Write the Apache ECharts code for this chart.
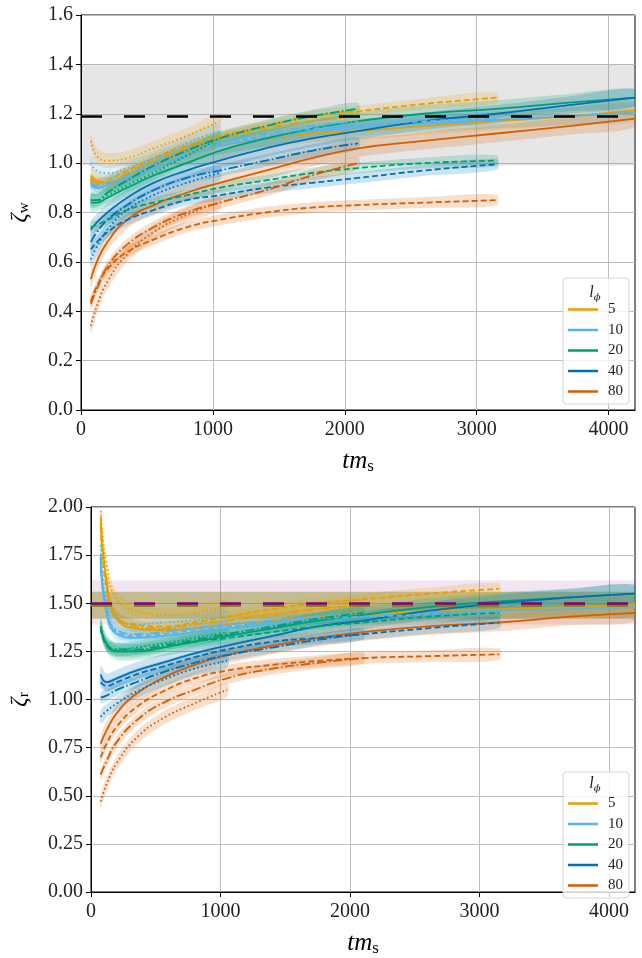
<!DOCTYPE html>
<html>
<head>
<meta charset="utf-8">
<script src="https://cdn.jsdelivr.net/npm/echarts@6/dist/echarts.min.js"></script>
<style>
  html, body { margin: 0; padding: 0; background: #fff; }
  #chart { width: 642px; height: 958px; }
</style>
</head>
<body>
<div id="chart"></div>
<script>
// sample times (tm_s); dotted runs stop at 1050, dash-dot at 2100, dashed at 3150, solid at 4200
const times = [75, 120, 200, 350, 550, 800, 1050, 1400, 1750, 2100, 2600, 3150, 3700, 4200];
const lPhi = ['5', '10', '20', '40', '80'];
const colors = ['#E69F00', '#56B4E9', '#009E73', '#0072B2', '#D55E00'];
const xTicks = [0, 1000, 2000, 3000, 4000];

// zeta_w (top panel), one row per l_phi
const zwSolid = [
  [0.95, 0.93, 0.92, 0.95, 0.99, 1.04, 1.07, 1.10, 1.12, 1.13, 1.15, 1.17, 1.19, 1.215],
  [0.91, 0.90, 0.91, 0.94, 0.98, 1.03, 1.07, 1.10, 1.13, 1.145, 1.16, 1.175, 1.19, 1.205],
  [0.84, 0.84, 0.86, 0.90, 0.95, 1.00, 1.05, 1.10, 1.14, 1.17, 1.20, 1.22, 1.245, 1.265],
  [0.73, 0.76, 0.80, 0.86, 0.92, 0.97, 1.01, 1.06, 1.10, 1.13, 1.17, 1.20, 1.235, 1.265],
  [0.53, 0.60, 0.68, 0.77, 0.83, 0.88, 0.92, 0.97, 1.02, 1.06, 1.09, 1.12, 1.15, 1.18]
];
const zwDashed = [
  [0.94, 0.92, 0.93, 0.97, 1.02, 1.07, 1.11, 1.15, 1.19, 1.21, 1.24, 1.265],
  [0.92, 0.90, 0.91, 0.94, 0.99, 1.04, 1.08, 1.11, 1.14, 1.15, 1.17, 1.18],
  [0.74, 0.75, 0.77, 0.81, 0.84, 0.87, 0.90, 0.93, 0.96, 0.98, 1.00, 1.01],
  [0.65, 0.68, 0.72, 0.77, 0.81, 0.85, 0.87, 0.90, 0.92, 0.94, 0.97, 0.995],
  [0.44, 0.50, 0.57, 0.64, 0.69, 0.74, 0.77, 0.80, 0.82, 0.83, 0.84, 0.85]
];
const zwDashDot = [
  [0.93, 0.92, 0.92, 0.96, 1.01, 1.06, 1.10, 1.14, 1.17, 1.19],
  [0.92, 0.91, 0.92, 0.95, 1.00, 1.05, 1.09, 1.12, 1.15, 1.17],
  [0.85, 0.85, 0.88, 0.93, 0.99, 1.05, 1.10, 1.15, 1.19, 1.22],
  [0.68, 0.72, 0.77, 0.83, 0.89, 0.94, 0.97, 1.01, 1.05, 1.08],
  [0.43, 0.49, 0.58, 0.67, 0.74, 0.80, 0.84, 0.89, 0.95, 1.00]
];
const zwDotted = [
  [1.09, 1.03, 1.01, 1.02, 1.06, 1.11, 1.17],
  [1.00, 0.97, 0.96, 0.98, 1.02, 1.08, 1.13],
  [0.85, 0.85, 0.87, 0.91, 0.96, 1.03, 1.10],
  [0.61, 0.66, 0.73, 0.81, 0.87, 0.92, 0.96],
  [0.34, 0.42, 0.52, 0.63, 0.72, 0.79, 0.84]
];

// zeta_r (bottom panel)
const zrSolid = [
  [1.95, 1.62, 1.42, 1.37, 1.36, 1.37, 1.39, 1.41, 1.43, 1.44, 1.46, 1.47, 1.48, 1.49],
  [1.72, 1.45, 1.34, 1.32, 1.33, 1.35, 1.37, 1.39, 1.41, 1.43, 1.45, 1.46, 1.47, 1.48],
  [1.38, 1.29, 1.25, 1.25, 1.27, 1.30, 1.33, 1.37, 1.41, 1.44, 1.48, 1.51, 1.53, 1.55],
  [1.13, 1.09, 1.11, 1.15, 1.19, 1.24, 1.28, 1.33, 1.38, 1.41, 1.46, 1.50, 1.53, 1.55],
  [0.77, 0.84, 0.93, 1.03, 1.11, 1.18, 1.23, 1.28, 1.32, 1.35, 1.38, 1.40, 1.43, 1.45]
];
const zrDashed = [
  [1.90, 1.58, 1.43, 1.39, 1.38, 1.40, 1.43, 1.47, 1.50, 1.52, 1.55, 1.575],
  [1.74, 1.46, 1.35, 1.33, 1.34, 1.36, 1.38, 1.40, 1.42, 1.43, 1.44, 1.45],
  [1.37, 1.28, 1.25, 1.25, 1.27, 1.30, 1.32, 1.35, 1.38, 1.40, 1.43, 1.45],
  [1.09, 1.07, 1.09, 1.13, 1.17, 1.22, 1.26, 1.30, 1.32, 1.34, 1.37, 1.40],
  [0.70, 0.77, 0.86, 0.96, 1.04, 1.11, 1.15, 1.18, 1.20, 1.215, 1.225, 1.235]
];
const zrDashDot = [
  [1.92, 1.60, 1.43, 1.38, 1.37, 1.39, 1.41, 1.44, 1.47, 1.49],
  [1.75, 1.47, 1.36, 1.34, 1.35, 1.37, 1.39, 1.41, 1.43, 1.45],
  [1.38, 1.29, 1.26, 1.26, 1.28, 1.31, 1.34, 1.38, 1.42, 1.45],
  [1.01, 1.02, 1.05, 1.09, 1.14, 1.19, 1.23, 1.27, 1.31, 1.34],
  [0.61, 0.68, 0.78, 0.89, 0.98, 1.05, 1.11, 1.16, 1.19, 1.215]
];
const zrDotted = [
  [1.98, 1.70, 1.52, 1.46, 1.44, 1.45, 1.49],
  [1.80, 1.52, 1.42, 1.39, 1.40, 1.41, 1.43],
  [1.38, 1.29, 1.26, 1.27, 1.29, 1.32, 1.35],
  [0.91, 0.94, 0.98, 1.04, 1.10, 1.16, 1.20],
  [0.47, 0.56, 0.67, 0.80, 0.90, 0.98, 1.05]
];

// reference values
const zwRef = 1.19, zwRange = [0.99, 1.40];
const zrRefA = 1.505, zrRangeA = [1.39, 1.62];   // purple
const zrRefB = 1.49, zrRangeB = [1.42, 1.56];    // olive

const FONT = 'Liberation Serif, DejaVu Serif, serif';
const dashTypes = ['solid', [6, 3], [9.5, 2.5, 1.6, 2.5], [1.6, 2.6]];
const topSpread = [0.035, 0.022, 0.025, 0.03];
const botSpread = [0.045, 0.03, 0.03, 0.035];

function rgba(hex, a) {
  const n = parseInt(hex.slice(1), 16);
  return 'rgba(' + (n >> 16) + ',' + ((n >> 8) & 255) + ',' + (n & 255) + ',' + a + ')';
}

const series = [];

function bandSeries(g, pts, s, color) {
  return {
    type: 'custom', coordinateSystem: 'cartesian2d', xAxisIndex: g, yAxisIndex: g,
    z: 1, silent: true, clip: true, animation: false,
    data: pts.map(p => [p[0], p[1] - s, p[1] + s]),
    encode: { x: 0, y: [1, 2] },
    renderItem: (params, api) => {
      if (params.dataIndex !== 0) return null;
      const up = pts.map(p => api.coord([p[0], p[1] + s]));
      const lo = pts.map(p => api.coord([p[0], p[1] - s])).reverse();
      return {
        type: 'polygon',
        shape: { points: up.concat(lo), smooth: 0.3 },
        style: { fill: rgba(color, 0.2), stroke: null }
      };
    }
  };
}

function addPanel(g, sets, spreads) {
  sets.forEach((rows, k) => {
    rows.forEach((ys, c) => {
      const pts = ys.map((y, i) => [times[i], y]);
      series.push(bandSeries(g, pts, spreads[k], colors[c]));
      series.push({
        type: 'line', name: lPhi[c], xAxisIndex: g, yAxisIndex: g,
        data: pts, smooth: true, symbol: 'none', z: 2, silent: true,
        animation: false, emphasis: { disabled: true },
        itemStyle: { color: colors[c] },
        lineStyle: { color: colors[c], width: 1.8, type: dashTypes[k] }
      });
    });
  });
}

addPanel(0, [zwSolid, zwDashed, zwDashDot, zwDotted], topSpread);
addPanel(1, [zrSolid, zrDashed, zrDashDot, zrDotted], botSpread);

// shaded ranges and dashed reference lines
series.push({
  type: 'line', xAxisIndex: 0, yAxisIndex: 0, data: [], z: 0, silent: true,
  markArea: { silent: true, z: 0, itemStyle: { color: 'rgba(128,128,128,0.2)' },
    data: [[{ yAxis: zwRange[0] }, { yAxis: zwRange[1] }]] },
  markLine: { silent: true, z: 5, symbol: ['none', 'none'], label: { show: false },
    lineStyle: { color: '#000', width: 2.5, type: [21, 22] },
    data: [{ yAxis: zwRef }] }
});
series.push({
  type: 'line', xAxisIndex: 1, yAxisIndex: 1, data: [], z: 0, silent: true,
  markArea: { silent: true, z: 0,
    data: [
      [{ yAxis: zrRangeA[0], itemStyle: { color: 'rgba(128,0,128,0.1)' } }, { yAxis: zrRangeA[1] }],
      [{ yAxis: zrRangeB[0], itemStyle: { color: 'rgba(128,128,0,0.4)' } }, { yAxis: zrRangeB[1] }]
    ] },
  markLine: { silent: true, z: 5, symbol: ['none', 'none'], label: { show: false },
    data: [
      { yAxis: zrRefB, lineStyle: { color: '#808000', width: 2.5, type: [21, 22] } },
      { yAxis: zrRefA, lineStyle: { color: '#800080', width: 2.5, type: [21, 22] } }
    ] }
});

function xAxisOpt(g) {
  return {
    type: 'value', gridIndex: g, min: 0, max: 4200, interval: 1000,
    name: '{i|tm}{s|s}', nameLocation: 'middle', nameGap: 38,
    nameTextStyle: { rich: {
      i: { fontFamily: FONT, fontStyle: 'italic', fontSize: 25, color: '#000' },
      s: { fontFamily: FONT, fontSize: 17, color: '#000', padding: [10, 0, 0, 0] }
    } },
    axisLine: { show: true, lineStyle: { color: '#000', width: 1 } },
    axisTick: { show: true, inside: false, length: 5, lineStyle: { color: '#000' },
      customValues: xTicks },
    axisLabel: { fontFamily: FONT, fontSize: 20, color: '#222', margin: 10,
      customValues: xTicks, formatter: v => String(v) },
    splitLine: { show: true, lineStyle: { color: '#bdbdbd', width: 1 } }
  };
}

function yAxisOpt(g, max, step, digits, sub, gap) {
  return {
    type: 'value', gridIndex: g, min: 0, max: max, interval: step,
    name: '{z|ζ}{s|' + sub + '}', nameLocation: 'middle', nameRotate: 90, nameGap: gap,
    nameTextStyle: { rich: {
      z: { fontFamily: FONT, fontStyle: 'italic', fontSize: 23, color: '#000' },
      s: { fontFamily: FONT, fontSize: 15, color: '#000', padding: [10, 0, 0, 0] }
    } },
    axisLine: { show: true, lineStyle: { color: '#000', width: 1 } },
    axisTick: { show: true, inside: false, length: 5, lineStyle: { color: '#000' } },
    axisLabel: { fontFamily: FONT, fontSize: 20, color: '#222', margin: 8,
      formatter: v => v.toFixed(digits) },
    splitLine: { show: true, lineStyle: { color: '#bdbdbd', width: 1 } }
  };
}

function legendOpt(top) {
  return {
    data: lPhi, orient: 'vertical', left: 563, top: top,
    icon: 'rect', itemWidth: 30, itemHeight: 2.5, itemGap: 5.5,
    padding: [24, 6, 5, 5], selectedMode: false,
    backgroundColor: 'rgba(255,255,255,0.8)', borderColor: '#d6d6d6', borderWidth: 1, borderRadius: 4,
    textStyle: { fontFamily: FONT, fontSize: 15, lineHeight: 14, color: '#222', padding: [0, 0, 0, 5] }
  };
}

function legendTitle(y) {
  return {
    type: 'text', x: 595, y: y, z: 100,
    style: {
      text: '{i|l}{s|ϕ}', align: 'center', verticalAlign: 'middle',
      rich: {
        i: { fontFamily: FONT, fontStyle: 'italic', fontSize: 16, fill: '#222' },
        s: { fontFamily: 'DejaVu Serif, serif', fontStyle: 'italic', fontSize: 10, fill: '#222', padding: [8, 0, 0, 0] }
      }
    }
  };
}

const chart = echarts.init(document.getElementById('chart'), null, { renderer: 'canvas' });
chart.setOption({
  backgroundColor: '#fff',
  animation: false,
  grid: [
    { left: 77, top: 15, width: 558, height: 395, show: true, borderColor: '#000', borderWidth: 1, backgroundColor: 'transparent' },
    { left: 87, top: 507, width: 548, height: 395, show: true, borderColor: '#000', borderWidth: 1, backgroundColor: 'transparent' }
  ],
  xAxis: [xAxisOpt(0), xAxisOpt(1)],
  yAxis: [yAxisOpt(0, 1.6, 0.2, 1, 'w', 49), yAxisOpt(1, 2.0, 0.25, 2, 'r', 59)],
  legend: [legendOpt(278), legendOpt(772)],
  graphic: [legendTitle(293), legendTitle(784)],
  series: series
});
</script>
</body>
</html>
